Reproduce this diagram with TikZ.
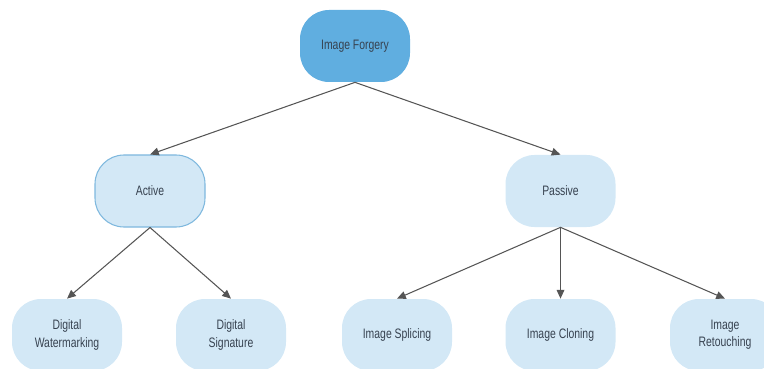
\documentclass[tikz,border=0pt]{standalone}
\usepackage{fontspec}
\setmainfont{Liberation Sans}[FakeStretch=0.76]
\usetikzlibrary{arrows.meta}

\definecolor{rootblue}{RGB}{96,174,224}
\definecolor{leafblue}{RGB}{211,232,246}
\definecolor{edgeblue}{RGB}{126,184,222}
\definecolor{textgray}{RGB}{55,66,80}
\definecolor{linegray}{RGB}{85,85,85}

\tikzset{
	box/.style={rounded corners=0.58cm, minimum width=2.2cm, minimum height=1.44cm,
		inner sep=0pt, align=center, text=textgray, font=\fontsize{7.8}{9.9}\selectfont},
	rootbox/.style={box, fill=rootblue},
	leafbox/.style={box, fill=leafblue},
	link/.style={draw=linegray, line width=0.6pt, -{Triangle[length=5pt,width=4.4pt]}}
}

\begin{document}
\begin{tikzpicture}[line cap=round, line join=round]
\useasboundingbox (0,0) rectangle (15.28,7.36);
\clip (0,0) rectangle (15.28,7.36);

% ==== root ====
\node[rootbox] (forgery) at (7.10,6.44) {Image Forgery};

% ==== second level ====
\node[leafbox, draw=edgeblue, line width=0.6pt] (active) at (3.00,3.54) {Active};
\node[leafbox] (passive) at (11.21,3.54) {Passive};

% ==== leaves ====
\node[leafbox] (watermark)  at (1.34,0.66)  {Digital\\Watermarking};
\node[leafbox] (signature)  at (4.62,0.66)  {Digital\\Signature};
\node[leafbox] (splicing)   at (7.94,0.66)  {Image Splicing};
\node[leafbox] (cloning)    at (11.21,0.66) {Image Cloning};
\node[leafbox] (retouching) at (14.50,0.66) {Image\\Retouching};

% ==== connectors ====
\draw[link] (forgery.south) -- (active.north);
\draw[link] (forgery.south) -- (passive.north);
\draw[link] (active.south) -- (watermark.north);
\draw[link] (active.south) -- (signature.north);
\draw[link] (passive.south) -- (splicing.north);
\draw[link] (passive.south) -- (cloning.north);
\draw[link] (passive.south) -- (retouching.north);

\end{tikzpicture}
\end{document}
